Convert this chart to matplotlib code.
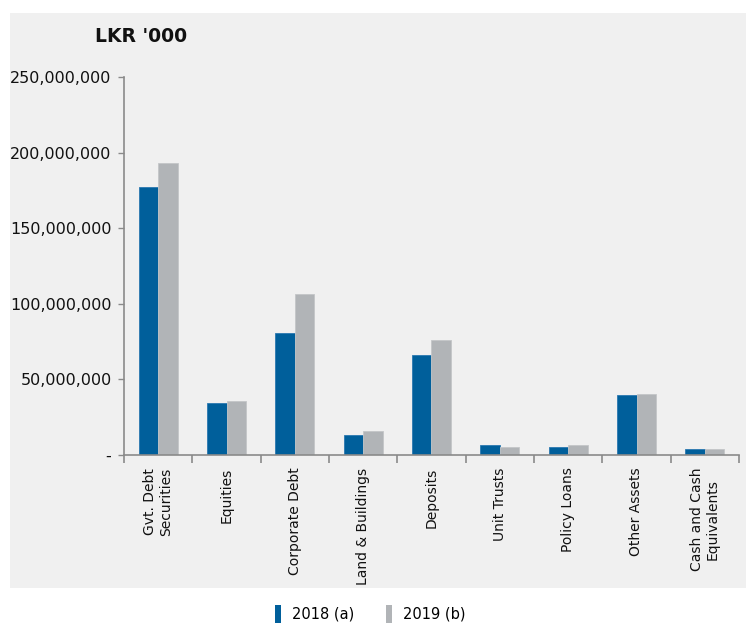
import matplotlib
matplotlib.use("Agg")
import matplotlib.pyplot as plt
from matplotlib.patches import Rectangle, Patch
from matplotlib.ticker import FuncFormatter
import numpy as np

categories = ["Gvt. Debt\nSecurities", "Equities", "Corporate Debt", "Land & Buildings",
              "Deposits", "Unit Trusts", "Policy Loans", "Other Assets",
              "Cash and Cash\nEquivalents"]
values_2018 = [177.0e6, 34.5e6, 80.5e6, 13.4e6, 66.4e6, 6.4e6, 5.3e6, 39.4e6, 4.0e6]
values_2019 = [193.4e6, 35.6e6, 106.3e6, 15.8e6, 75.9e6, 5.3e6, 6.4e6, 40.5e6, 4.0e6]
series_labels = ["2018 (a)", "2019 (b)"]
y_ticks = [0, 50e6, 100e6, 150e6, 200e6, 250e6]

blue = "#005F9B"
gray = "#B1B4B7"
panel = "#F0F0F0"
axis_col = "#8A8A8A"

W, H = 746, 625
fig = plt.figure(figsize=(W / 100, H / 100), dpi=100)
fig.patch.set_facecolor("white")
fig.patches.append(Rectangle((10 / W, (H - 588) / H), 1 - 10 / W, (588 - 13) / H,
                             transform=fig.transFigure, facecolor=panel,
                             edgecolor="none", zorder=-10))

ax = fig.add_axes([124 / W, (H - 455) / H, (739 - 124) / W, (455 - 77) / H])
ax.set_facecolor("none")

x = np.arange(len(categories))
bw = 0.283
ax.bar(x - bw / 2, values_2018, bw, color=blue, edgecolor="#2a78b0", linewidth=0.6)
ax.bar(x + bw / 2, values_2019, bw, color=gray, edgecolor="#c4c6c8", linewidth=0.6)

ax.set_xlim(-0.5, len(categories) - 0.5)
ax.set_ylim(0, 250e6)
ax.set_yticks(y_ticks)
ax.yaxis.set_major_formatter(FuncFormatter(lambda v, p: "-" if v == 0 else f"{int(v):,}"))
ax.tick_params(axis="y", length=4, width=1, color=axis_col, labelsize=11.5, pad=5,
               labelcolor="#111111")

ax.set_xticks(x)
ax.set_xticklabels(categories, rotation=90, fontsize=10, va="top", ha="center",
                   multialignment="center")
ax.tick_params(axis="x", which="major", length=0, pad=9, labelcolor="#111111")
ax.set_xticks(np.arange(-0.5, len(categories)), minor=True)
ax.tick_params(axis="x", which="minor", length=6, width=1.2, color=axis_col)

for s in ["top", "right"]:
    ax.spines[s].set_visible(False)
for s in ["left", "bottom"]:
    ax.spines[s].set_color(axis_col)
    ax.spines[s].set_linewidth(1.2)

fig.text(95 / W, (H - 37) / H, "LKR '000", fontsize=13.5, fontweight="bold",
         va="center", ha="left", color="#111111")

handles = [Patch(facecolor=blue, edgecolor="none"), Patch(facecolor=gray, edgecolor="none")]
fig.legend(handles, series_labels, loc="center", bbox_to_anchor=(370 / W, (H - 614) / H),
           ncol=2, frameon=False, fontsize=10.5, handlelength=0.45, handleheight=1.6,
           handletextpad=0.7, columnspacing=2.2)

fig.savefig("out.png", dpi=100)
